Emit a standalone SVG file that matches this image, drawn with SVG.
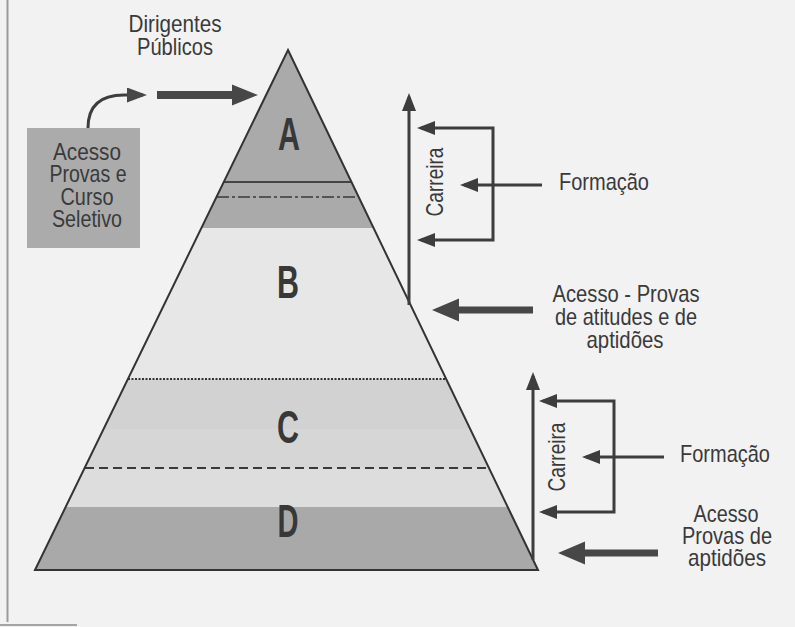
<svg xmlns="http://www.w3.org/2000/svg" width="795" height="627" viewBox="0 0 795 627">
<defs>
<style>
.t{font-family:"Liberation Sans",Arial,sans-serif;font-size:24px;fill:#3a3a3a;text-anchor:middle}
.L{font-family:"Liberation Sans",Arial,sans-serif;font-weight:bold;font-size:46px;fill:#383838;text-anchor:middle}
.ln{fill:none;stroke:#3d3d3d;stroke-width:3}
.th{fill:#474747}
</style>
<marker id="ah" markerUnits="userSpaceOnUse" markerWidth="18" markerHeight="14" refX="14" refY="7" orient="auto-start-reverse"><path d="M0,0 L18,7 L0,14 z" fill="#3d3d3d"/></marker>
<marker id="ahc" markerUnits="userSpaceOnUse" markerWidth="20" markerHeight="15" refX="16" refY="7.5" orient="auto"><path d="M0,0 L20,7.5 L0,15 z" fill="#474747"/></marker>
<clipPath id="tri"><polygon points="288,50 538,570 35,570"/></clipPath>
</defs>
<rect width="795" height="627" fill="#f2f2f2"/>
<line x1="7.5" y1="0" x2="7.5" y2="622" stroke="#9a9a9a" stroke-width="2"/>
<line x1="0" y1="625" x2="77" y2="625" stroke="#8a8a8a" stroke-width="1.5"/>

<g id="pyramid">
<g clip-path="url(#tri)">
<rect x="0" y="40" width="600" height="188" fill="#aaaaaa"/>
<rect x="0" y="228" width="600" height="151" fill="#e7e7e7"/>
<rect x="0" y="379" width="600" height="50" fill="#d2d2d2"/>
<rect x="0" y="429" width="600" height="39" fill="#d6d6d6"/>
<rect x="0" y="468" width="600" height="39" fill="#dddddd"/>
<rect x="0" y="507" width="600" height="70" fill="#a9a9a9"/>
</g>
<line x1="224" y1="182" x2="351" y2="182" stroke="#444" stroke-width="2"/>
<line x1="217" y1="197" x2="358" y2="197" stroke="#555" stroke-width="1.8" stroke-dasharray="12,3,3,3"/>
<line x1="128" y1="379" x2="446" y2="379" stroke="#333" stroke-width="2" stroke-dasharray="2,1.5"/>
<line x1="85" y1="468" x2="489" y2="468" stroke="#3a3a3a" stroke-width="2" stroke-dasharray="9,5"/>
<polygon points="288,50 538,570 35,570" fill="none" stroke="#333" stroke-width="2" stroke-linejoin="miter"/>
</g>

<g id="level-A"><text class="L" x="289" y="150" textLength="22" lengthAdjust="spacingAndGlyphs">A</text></g>
<g id="level-B"><text class="L" x="288" y="298" textLength="22" lengthAdjust="spacingAndGlyphs">B</text></g>
<g id="level-C"><text class="L" x="288" y="443" textLength="22" lengthAdjust="spacingAndGlyphs">C</text></g>
<g id="level-D"><text class="L" x="288" y="537" textLength="21" lengthAdjust="spacingAndGlyphs">D</text></g>

<g id="dirigentes">
<text class="t" x="175" y="32" textLength="93" lengthAdjust="spacingAndGlyphs">Dirigentes</text>
<text class="t" x="175" y="55" textLength="76" lengthAdjust="spacingAndGlyphs">Públicos</text>
</g>

<g id="acesso-box">
<rect x="27" y="128" width="113" height="120" fill="#ababab"/>
<text class="t" x="87" y="160" textLength="68" lengthAdjust="spacingAndGlyphs">Acesso</text>
<text class="t" x="88" y="182" textLength="77" lengthAdjust="spacingAndGlyphs">Provas e</text>
<text class="t" x="87" y="205" textLength="53" lengthAdjust="spacingAndGlyphs">Curso</text>
<text class="t" x="87" y="227" textLength="70" lengthAdjust="spacingAndGlyphs">Seletivo</text>
</g>

<g id="label-carreira-1"><text class="t" transform="translate(443,182) rotate(-90)" textLength="69" lengthAdjust="spacingAndGlyphs">Carreira</text></g>
<g id="label-formacao-1"><text class="t" x="604" y="190" textLength="90" lengthAdjust="spacingAndGlyphs">Formação</text></g>
<g id="label-acesso-B">
<text class="t" x="626" y="302" textLength="147" lengthAdjust="spacingAndGlyphs">Acesso - Provas</text>
<text class="t" x="626" y="325" textLength="142" lengthAdjust="spacingAndGlyphs">de atitudes e de</text>
<text class="t" x="625" y="348" textLength="77" lengthAdjust="spacingAndGlyphs">aptidões</text>
</g>

<g id="label-carreira-2"><text class="t" transform="translate(565,457) rotate(-90)" textLength="69" lengthAdjust="spacingAndGlyphs">Carreira</text></g>
<g id="label-formacao-2"><text class="t" x="725" y="462" textLength="90" lengthAdjust="spacingAndGlyphs">Formação</text></g>
<g id="label-acesso-D">
<text class="t" x="726" y="522" textLength="65" lengthAdjust="spacingAndGlyphs">Acesso</text>
<text class="t" x="727" y="544" textLength="90" lengthAdjust="spacingAndGlyphs">Provas de</text>
<text class="t" x="727" y="566" textLength="78" lengthAdjust="spacingAndGlyphs">aptidões</text>
</g>

<g id="connectors">
<path class="ln" d="M88,128 C88,106 100,95 124,95 L143,95" marker-end="url(#ahc)"/>
<path class="th" d="M157,91 H232 V84.5 L258,95 L232,105.5 V99 H157 Z"/>
<path class="ln" d="M409,305 V97" marker-end="url(#ah)"/>
<path class="ln" d="M421,128 H493 V240 H421" marker-start="url(#ah)" marker-end="url(#ah)"/>
<path class="ln" d="M542,185 H464" marker-end="url(#ah)"/>
<path class="th" d="M533,306.5 H459 V298.5 L432,310 L459,321.5 V313.5 H533 Z"/>
<path class="ln" d="M533,560 V376" marker-end="url(#ah)"/>
<path class="ln" d="M543,401 H614 V512 H543" marker-start="url(#ah)" marker-end="url(#ah)"/>
<path class="ln" d="M664,457 H586" marker-end="url(#ah)"/>
<path class="th" d="M658,549.5 H585 V541.5 L558,553 L585,564.5 V556.5 H658 Z"/>
</g>
</svg>
